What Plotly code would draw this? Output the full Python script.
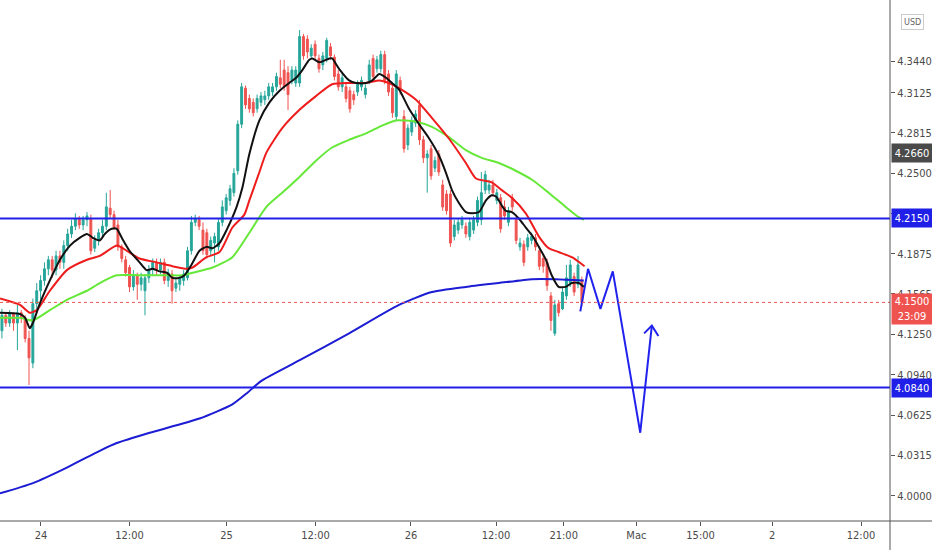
import plotly.graph_objects as go

# 30 min candles, x is the bar number (weekend gap already removed)
opens = [
    4.128, 4.140, 4.134, 4.141, 4.134, 4.142, 4.138, 4.122, 4.103, 4.149,
    4.159, 4.167, 4.176, 4.183, 4.175, 4.186, 4.181, 4.194, 4.203, 4.209,
    4.215, 4.210, 4.214, 4.215, 4.192, 4.198, 4.204, 4.209, 4.223, 4.218,
    4.210, 4.193, 4.183, 4.177, 4.162, 4.171, 4.164, 4.159, 4.169, 4.176,
    4.181, 4.175, 4.181, 4.167, 4.172, 4.161, 4.164, 4.167, 4.169, 4.190,
    4.212, 4.214, 4.206, 4.204, 4.190, 4.196, 4.193, 4.212, 4.221, 4.229,
    4.235, 4.252, 4.288, 4.316, 4.308, 4.305, 4.300, 4.305, 4.307, 4.310,
    4.313, 4.317, 4.324, 4.330, 4.328, 4.322, 4.320, 4.320, 4.356, 4.354,
    4.341, 4.350, 4.339, 4.334, 4.339, 4.348, 4.340, 4.327, 4.317, 4.317,
    4.314, 4.311, 4.313, 4.317, 4.311, 4.322, 4.339, 4.331, 4.331, 4.342,
    4.327, 4.316, 4.294, 4.322, 4.294, 4.272, 4.282, 4.289, 4.303, 4.276,
    4.262, 4.269, 4.254, 4.265, 4.241, 4.234, 4.234, 4.201, 4.206, 4.210,
    4.209, 4.201, 4.206, 4.212, 4.214, 4.237, 4.237, 4.241, 4.229, 4.231,
    4.224, 4.212, 4.231, 4.215, 4.193, 4.195, 4.193, 4.198, 4.200, 4.190,
    4.184, 4.181, 4.155, 4.126, 4.149, 4.145, 4.155, 4.165, 4.170, 4.164, 4.167,
]
highs = [
    4.145, 4.142, 4.144, 4.142, 4.148, 4.144, 4.140, 4.128, 4.153, 4.165,
    4.171, 4.181, 4.186, 4.186, 4.190, 4.190, 4.198, 4.207, 4.214, 4.219,
    4.217, 4.217, 4.220, 4.218, 4.202, 4.207, 4.214, 4.235, 4.237, 4.221,
    4.214, 4.195, 4.186, 4.179, 4.175, 4.173, 4.173, 4.172, 4.179, 4.184,
    4.184, 4.184, 4.184, 4.176, 4.175, 4.169, 4.171, 4.175, 4.193, 4.217,
    4.218, 4.217, 4.212, 4.207, 4.201, 4.204, 4.215, 4.229, 4.234, 4.241,
    4.254, 4.291, 4.320, 4.318, 4.311, 4.308, 4.311, 4.313, 4.314, 4.320,
    4.320, 4.328, 4.338, 4.338, 4.333, 4.333, 4.333, 4.361, 4.358, 4.357,
    4.350, 4.353, 4.342, 4.344, 4.355, 4.351, 4.342, 4.330, 4.327, 4.320,
    4.317, 4.314, 4.322, 4.325, 4.319, 4.338, 4.342, 4.341, 4.345, 4.345,
    4.330, 4.319, 4.330, 4.325, 4.299, 4.288, 4.294, 4.299, 4.307, 4.279,
    4.268, 4.272, 4.263, 4.268, 4.245, 4.237, 4.237, 4.214, 4.215, 4.217,
    4.212, 4.215, 4.217, 4.232, 4.251, 4.252, 4.245, 4.245, 4.238, 4.234,
    4.229, 4.224, 4.234, 4.218, 4.200, 4.198, 4.203, 4.204, 4.203, 4.193,
    4.187, 4.184, 4.158, 4.152, 4.152, 4.161, 4.179, 4.183, 4.173, 4.186, 4.170,
]
lows = [
    4.122, 4.131, 4.131, 4.128, 4.113, 4.134, 4.119, 4.086, 4.099, 4.142,
    4.152, 4.163, 4.171, 4.169, 4.171, 4.176, 4.176, 4.190, 4.200, 4.206,
    4.207, 4.206, 4.209, 4.187, 4.189, 4.194, 4.201, 4.206, 4.215, 4.206,
    4.190, 4.181, 4.170, 4.158, 4.159, 4.152, 4.159, 4.140, 4.165, 4.171,
    4.171, 4.172, 4.164, 4.162, 4.149, 4.158, 4.159, 4.163, 4.167, 4.187,
    4.209, 4.206, 4.187, 4.184, 4.186, 4.181, 4.190, 4.209, 4.218, 4.225,
    4.232, 4.249, 4.285, 4.300, 4.297, 4.294, 4.297, 4.302, 4.303, 4.307,
    4.310, 4.314, 4.316, 4.314, 4.299, 4.319, 4.317, 4.317, 4.338, 4.339,
    4.339, 4.338, 4.328, 4.330, 4.336, 4.338, 4.322, 4.314, 4.313, 4.305,
    4.297, 4.303, 4.310, 4.314, 4.308, 4.319, 4.322, 4.328, 4.328, 4.319,
    4.310, 4.293, 4.291, 4.311, 4.266, 4.268, 4.279, 4.286, 4.272, 4.258,
    4.235, 4.245, 4.251, 4.248, 4.221, 4.218, 4.193, 4.198, 4.203, 4.207,
    4.200, 4.198, 4.203, 4.209, 4.210, 4.234, 4.234, 4.232, 4.226, 4.204,
    4.214, 4.209, 4.221, 4.195, 4.190, 4.178, 4.190, 4.195, 4.190, 4.175,
    4.173, 4.159, 4.128, 4.124, 4.139, 4.144, 4.152, 4.162, 4.155, 4.161, 4.147,
]
closes = [
    4.140, 4.134, 4.141, 4.134, 4.142, 4.138, 4.122, 4.107, 4.149, 4.159,
    4.167, 4.176, 4.183, 4.175, 4.186, 4.181, 4.194, 4.203, 4.209, 4.215,
    4.210, 4.214, 4.217, 4.190, 4.198, 4.204, 4.209, 4.224, 4.218, 4.208,
    4.193, 4.184, 4.173, 4.162, 4.171, 4.164, 4.169, 4.169, 4.175, 4.181,
    4.175, 4.181, 4.167, 4.173, 4.159, 4.165, 4.169, 4.172, 4.190, 4.212,
    4.215, 4.209, 4.190, 4.187, 4.198, 4.201, 4.212, 4.224, 4.231, 4.238,
    4.250, 4.288, 4.317, 4.303, 4.300, 4.297, 4.308, 4.310, 4.310, 4.317,
    4.317, 4.325, 4.319, 4.317, 4.311, 4.330, 4.330, 4.356, 4.341, 4.344,
    4.347, 4.341, 4.331, 4.341, 4.353, 4.341, 4.325, 4.317, 4.324, 4.308,
    4.300, 4.307, 4.319, 4.322, 4.316, 4.334, 4.325, 4.338, 4.342, 4.322,
    4.313, 4.297, 4.327, 4.314, 4.269, 4.285, 4.291, 4.296, 4.276, 4.262,
    4.265, 4.248, 4.260, 4.251, 4.224, 4.221, 4.196, 4.210, 4.212, 4.214,
    4.203, 4.212, 4.214, 4.229, 4.235, 4.249, 4.241, 4.235, 4.235, 4.207,
    4.217, 4.221, 4.224, 4.198, 4.196, 4.181, 4.200, 4.201, 4.193, 4.178,
    4.178, 4.163, 4.136, 4.148, 4.142, 4.158, 4.169, 4.179, 4.158, 4.179, 4.150,
]
bars = list(range(len(closes)))

# moving averages at sample bars
ema_fast_x = [-0.5, 4.7, 6.0, 7.2, 8.0, 9.8, 12.4, 15.0, 17.6, 20.1, 22.0, 23.5,
              25.3, 26.6, 28.4, 29.7, 31.0, 33.0, 35.6, 37.4, 39.0, 40.8, 42.6,
              44.1, 45.9, 47.2, 49.0, 51.1, 52.9, 54.5, 56.3, 58.1, 60.7, 62.2,
              64.0, 66.6, 69.2, 71.8, 74.3, 76.1, 77.7, 79.5, 80.3, 82.1, 84.7,
              85.4, 87.2, 89.8, 91.6, 94.2, 95.8, 97.6, 99.4, 100.9, 102.7,
              105.3, 107.9, 110.5, 113.0, 114.9, 116.4, 118.2, 120.0, 121.6,
              123.4, 125.2, 126.7, 127.8, 129.3, 130.3, 131.9, 133.7, 135.5,
              137.1, 138.9, 140.7, 142.2, 144.0, 145.8, 147.4, 149.2, 150.5]
ema_fast = [4.142, 4.141, 4.138, 4.130, 4.134, 4.149, 4.167, 4.183, 4.194, 4.200,
            4.203, 4.200, 4.198, 4.203, 4.207, 4.207, 4.200, 4.190, 4.181, 4.175,
            4.176, 4.174, 4.173, 4.169, 4.169, 4.171, 4.179, 4.190, 4.193, 4.192,
            4.196, 4.206, 4.224, 4.239, 4.265, 4.291, 4.305, 4.314, 4.320, 4.324,
            4.330, 4.338, 4.339, 4.336, 4.339, 4.339, 4.331, 4.322, 4.320, 4.320,
            4.322, 4.327, 4.324, 4.320, 4.315, 4.300, 4.288, 4.277, 4.264, 4.250,
            4.237, 4.227, 4.220, 4.219, 4.220, 4.229, 4.233, 4.232, 4.225, 4.221,
            4.220, 4.215, 4.208, 4.202, 4.193, 4.183, 4.171, 4.162, 4.162, 4.165,
            4.165, 4.162]

ema_mid_x = [-0.5, 4.7, 7.2, 9.0, 12.4, 16.8, 22.0, 25.3, 29.7, 32.3, 35.6, 40.0,
             44.1, 47.8, 49.3, 52.9, 56.3, 59.6, 62.7, 64.0, 66.6, 68.4, 72.5,
             76.9, 81.3, 85.4, 89.8, 94.2, 97.6, 100.1, 102.7, 107.1, 111.2,
             115.6, 120.0, 122.6, 126.7, 129.3, 131.9, 135.5, 138.9, 141.4,
             144.0, 147.4, 150.7]
ema_mid = [4.153, 4.148, 4.142, 4.144, 4.159, 4.175, 4.183, 4.186, 4.194, 4.190,
           4.184, 4.181, 4.178, 4.176, 4.177, 4.185, 4.189, 4.208, 4.218, 4.229,
           4.251, 4.266, 4.285, 4.299, 4.310, 4.319, 4.320, 4.320, 4.322, 4.320,
           4.316, 4.307, 4.293, 4.277, 4.258, 4.246, 4.243, 4.237, 4.231, 4.219,
           4.201, 4.192, 4.189, 4.185, 4.178]

ema_slow_x = [-0.5, 4.7, 8.0, 12.4, 16.8, 22.0, 25.3, 29.7, 35.6, 42.6, 46.7, 49.3,
              54.5, 59.6, 64.0, 68.4, 72.5, 76.9, 81.3, 85.4, 89.8, 94.2, 98.3,
              101.9, 107.1, 111.2, 115.6, 120.0, 124.1, 128.5, 132.9, 137.1,
              141.4, 145.8, 149.2, 150.5]
ema_slow = [4.138, 4.138, 4.136, 4.144, 4.152, 4.159, 4.165, 4.171, 4.171, 4.171,
            4.171, 4.173, 4.177, 4.185, 4.204, 4.224, 4.235, 4.247, 4.260, 4.270,
            4.276, 4.281, 4.287, 4.291, 4.290, 4.286, 4.278, 4.268, 4.262, 4.258,
            4.252, 4.245, 4.235, 4.224, 4.216, 4.214]

ema_200_x = [-0.5, 8.0, 16.8, 25.3, 29.7, 38.2, 51.1, 59.6, 63.5, 67.0, 76.9, 89.8,
             102.7, 111.2, 120.0, 128.5, 137.1, 143.2, 150.5]
ema_200 = [4.002, 4.010, 4.022, 4.035, 4.041, 4.049, 4.060, 4.071, 4.080, 4.089,
           4.105, 4.126, 4.148, 4.158, 4.162, 4.165, 4.168, 4.168, 4.167]

# hand drawn projection
path_x = [149.6, 151.6, 154.8, 158.0, 165.1, 168.1]
path_y = [4.143, 4.176, 4.145, 4.174, 4.049, 4.132]
arrow_x = [166.1, 168.1, 169.8]
arrow_y = [4.126, 4.132, 4.124]

levels = [4.2150, 4.0840]
last_price = 4.1500
countdown = "23:09"
marker_price = 4.2660

x_tick_pos = [10.1, 33.0, 58.1, 81.1, 105.8, 127.8, 145.3, 164.1, 180.7, 199.2, 222.2]
x_tick_text = ["24", "12:00", "25", "12:00", "26", "12:00", "21:00", "Mac", "15:00", "2", "12:00"]
y_tick_vals = [4.0, 4.0315, 4.0625, 4.094, 4.125, 4.1565, 4.1875, 4.2185, 4.25,
               4.2815, 4.3125, 4.337]
y_tick_text = ["4.0000", "4.0315", "4.0625", "4.0940", "4.1250", "4.1565", "4.1875",
               "4.2185", "4.2500", "4.2815", "4.3125", "4.3440"]

UP = "#26a69a"
DOWN = "#ef5350"
LEVEL_BLUE = "#1f1fe8"
AXIS = "#555555"
FONT = "Liberation Sans Narrow, DejaVu Sans Condensed, Arial Narrow, sans-serif"

fig = go.Figure()
fig.add_trace(go.Candlestick(
    x=bars, open=opens, high=highs, low=lows, close=closes,
    increasing=dict(line=dict(color=UP, width=1), fillcolor=UP),
    decreasing=dict(line=dict(color=DOWN, width=1), fillcolor=DOWN),
    whiskerwidth=0, hoverinfo="skip",
))

for xs, ys, color in [
    (ema_200_x, ema_200, "#1c1cd4"),
    (ema_slow_x, ema_slow, "#66e838"),
    (ema_mid_x, ema_mid, "#ee1c1c"),
    (ema_fast_x, ema_fast, "#111111"),
]:
    fig.add_trace(go.Scatter(x=xs, y=ys, mode="lines",
                             line=dict(color=color, width=2, shape="spline", smoothing=0.6),
                             hoverinfo="skip"))

fig.add_trace(go.Scatter(x=path_x, y=path_y, mode="lines",
                         line=dict(color="#2222ee", width=2), hoverinfo="skip"))
fig.add_trace(go.Scatter(x=arrow_x, y=arrow_y, mode="lines",
                         line=dict(color="#2222ee", width=2), hoverinfo="skip"))

shapes = []
for lv in levels:
    shapes.append(dict(type="line", xref="paper", x0=0, x1=1, yref="y", y0=lv, y1=lv,
                       line=dict(color=LEVEL_BLUE, width=2)))
shapes.append(dict(type="line", xref="paper", x0=0, x1=1, yref="y", y0=last_price,
                   y1=last_price, line=dict(color=DOWN, width=1, dash="dot")))
# axis lines run into the margins like on the original
shapes.append(dict(type="line", xref="paper", x0=1, x1=1, yref="paper", y0=-0.06, y1=1,
                   line=dict(color=AXIS, width=1)))
shapes.append(dict(type="line", xref="paper", x0=0, x1=1.05, yref="paper", y0=0, y1=0,
                   line=dict(color=AXIS, width=1)))


def badge(price, text, color, height=16, **kw):
    return dict(x=1, xref="paper", xanchor="left", xshift=1, y=price, yref="y",
                text=text, showarrow=False, bgcolor=color, width=38, height=height,
                font=dict(family=FONT, size=11, color="white"), borderpad=1, **kw)


annotations = [badge(lv, "%.4f" % lv, LEVEL_BLUE) for lv in levels]
annotations.append(badge(marker_price, "%.4f" % marker_price, "#4a4a4a"))
annotations.append(badge(last_price, "%.4f<br>%s" % (last_price, countdown), DOWN,
                         height=28, yanchor="top", yshift=9))
annotations.append(dict(x=1.025, xref="paper", xanchor="center", y=0.973, yref="paper",
                        text="USD", showarrow=False,
                        font=dict(family=FONT, size=9, color="#666666"),
                        bordercolor="#cccccc", borderwidth=1, borderpad=2))

fig.update_layout(
    width=932, height=550,
    margin=dict(l=0, r=40, t=0, b=29, pad=0),
    paper_bgcolor="white", plot_bgcolor="white",
    showlegend=False,
    shapes=shapes, annotations=annotations,
    font=dict(family=FONT, size=11, color="#4a4a4a"),
    xaxis=dict(range=[-0.5, 229.7], rangeslider=dict(visible=False),
               tickmode="array", tickvals=x_tick_pos, ticktext=x_tick_text,
               ticks="outside", ticklen=4, tickcolor=AXIS, showgrid=False,
               zeroline=False, showline=False, fixedrange=True),
    yaxis=dict(range=[3.9806, 4.3843], side="right",
               tickmode="array", tickvals=y_tick_vals, ticktext=y_tick_text,
               ticks="outside", ticklen=4, tickcolor=AXIS, showgrid=False,
               zeroline=False, showline=False, fixedrange=True),
)

# the page's default 8px body margin would push the chart out of the window
fig.write_html("out.html", config={"displayModeBar": False},
               post_script="document.body.style.margin='0';")
